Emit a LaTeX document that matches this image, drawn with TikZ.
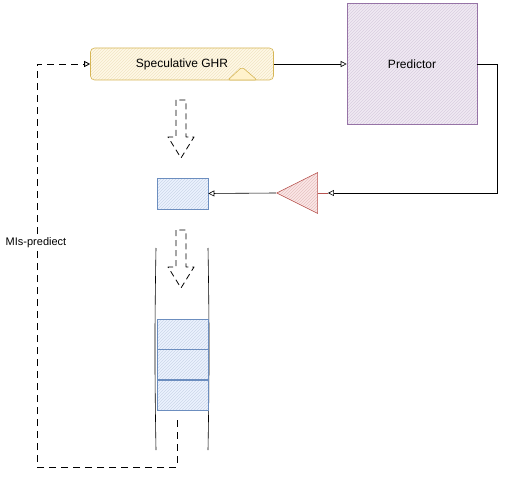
\documentclass[tikz,border=0pt]{standalone}
\usepackage{fontspec}
\setmainfont{Liberation Sans}
\usetikzlibrary{positioning, arrows.meta, shapes.geometric, patterns}

\definecolor{ghrline}{HTML}{D6B656}
\definecolor{ghrfill}{HTML}{FFF2CC}
\definecolor{predline}{HTML}{9673A6}
\definecolor{predfill}{HTML}{E1D5E7}
\definecolor{cellline}{HTML}{6C8EBF}
\definecolor{cellfill}{HTML}{DAE8FC}
\definecolor{bufline}{HTML}{B85450}
\definecolor{buffill}{HTML}{F8CECC}

\begin{document}
\begin{tikzpicture}[
    x=1pt, y=-1pt,
    > = {Triangle[open, length=6pt, width=6pt]},
    semithick,
    every node/.style={font=\fontsize{12}{14}\selectfont},
    hatch/.style 2 args={draw=#1, preaction={fill=#2!50}, pattern=north east lines, pattern color=#1!35},
    cell/.style={hatch={cellline}{cellfill}, minimum width=51pt, minimum height=30pt, inner sep=0pt},
    flowline/.style={thick, dash pattern=on 6pt off 4pt, line join=round},
    fb/.style={thick, dash pattern=on 7pt off 5pt}
]
\useasboundingbox (0,0) rectangle (511,484);

% --- front end ---
\node[hatch={ghrline}{ghrfill}, rounded corners=4pt, minimum width=183pt, minimum height=32pt] (ghr) at (182,64) {Speculative GHR};
\draw[ghrline, fill=ghrfill, rounded corners=2pt] (228,80) -- (242,67) -- (257,80) -- cycle;
\node[hatch={predline}{predfill}, minimum width=130pt, minimum height=121pt] (pred) at (412,64) {Predictor};
\draw[->] (ghr.east) -- (pred.west);

% --- prediction path back ---
\node[isosceles triangle, isosceles triangle stretches, shape border rotate=180,
    minimum width=41pt, minimum height=41pt, inner sep=0pt, hatch={bufline}{buffill}] (buf) at (305,193) {};
\draw[bufline] (buf.east) -- ++(10,0) coordinate (bufin);
\draw[->] (pred.east) -- (497,64) |- (bufin);
\node[cell, minimum height=31pt] (spec) at (182.5,193.5) {};
\draw[->] (buf.apex) -- (spec.east);

% dashed block arrows
\foreach \n/\ty in {A/100, B/230} {
    \coordinate (flow\n) at (176,\ty);
    \draw[flowline] (flow\n) -- ++(0,37) -- ++(-8,0) -- ++(13,21) -- ++(13,-21) -- ++(-8,0) -- ++(0,-37) -- cycle;
}

% --- queue ---
\draw (156,248) to[bend right=1] (156,450);
\draw (208,248) to[bend left=1] (208,450);
\node[cell] (cellA) at (182.5,334) {};
\node[cell, below=0pt of cellA] (cellB) {};
\node[cell, below=0pt of cellB] (cellC) {};

% --- misprediction feedback ---
\coordinate (fbstart) at (177,420);
\draw[fb, ->] (fbstart) |- (37,467) |- (ghr.west);
\node[fill=white, inner sep=1pt, font=\fontsize{11}{13}\selectfont] (mislabel) at (36,243) {MIs-prediect};

\end{tikzpicture}
\end{document}
